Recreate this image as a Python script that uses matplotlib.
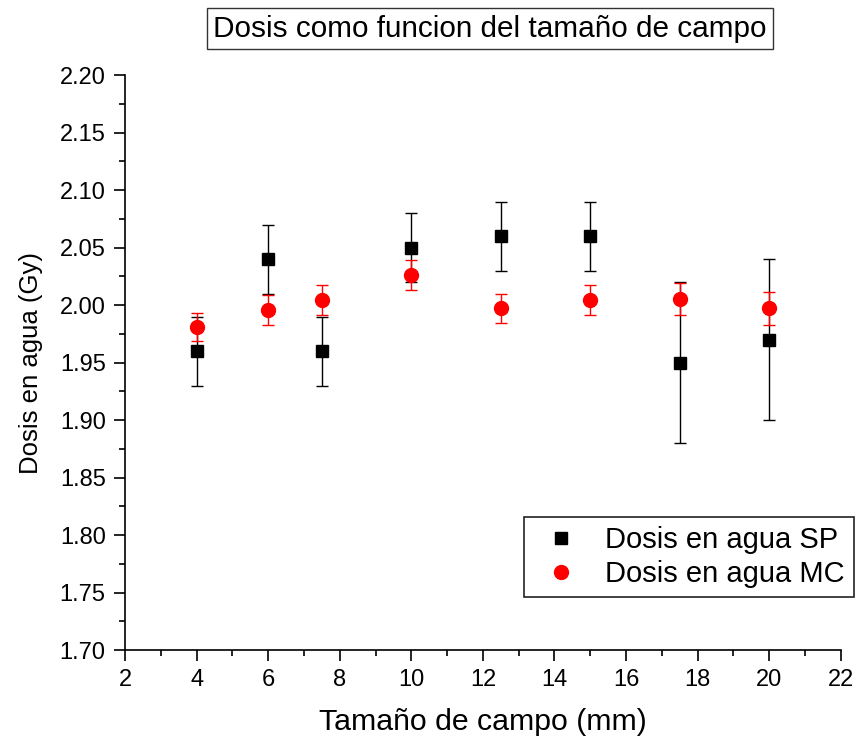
import matplotlib
matplotlib.use("Agg")
import matplotlib.pyplot as plt
from matplotlib.ticker import MultipleLocator, FormatStrFormatter

plt.rcParams['font.family'] = ['Liberation Sans', 'DejaVu Sans']

campo = [4, 6, 7.5, 10, 12.5, 15, 17.5, 20]
dosis_sp = [1.96, 2.04, 1.96, 2.05, 2.06, 2.06, 1.95, 1.97]
err_sp = [0.03, 0.03, 0.03, 0.03, 0.03, 0.03, 0.07, 0.07]
dosis_mc = [1.981, 1.996, 2.004, 2.026, 1.997, 2.004, 2.005, 1.997]
err_mc = [0.012, 0.013, 0.013, 0.013, 0.013, 0.013, 0.014, 0.014]

fig = plt.figure(figsize=(8.57, 7.4), dpi=100)
ax = fig.add_axes([0.146, 0.1216, 0.835, 0.777])

sp = ax.errorbar(campo, dosis_sp, yerr=err_sp, fmt='s', color='black', ms=9,
                 ecolor='black', elinewidth=1.0, capsize=4, capthick=1.0,
                 zorder=2)
mc = ax.errorbar(campo, dosis_mc, yerr=err_mc, fmt='o', color='red', ms=10,
                 ecolor='red', elinewidth=1.0, capsize=4, capthick=1.0,
                 zorder=3)

ax.set_xlim(2, 22)
ax.set_ylim(1.70, 2.20)
ax.xaxis.set_major_locator(MultipleLocator(2))
ax.xaxis.set_minor_locator(MultipleLocator(1))
ax.yaxis.set_major_locator(MultipleLocator(0.05))
ax.yaxis.set_minor_locator(MultipleLocator(0.025))
ax.yaxis.set_major_formatter(FormatStrFormatter('%.2f'))

for s in ('top', 'right'):
    ax.spines[s].set_visible(False)
for s in ('left', 'bottom'):
    ax.spines[s].set_linewidth(1.2)
ax.tick_params(which='major', direction='out', length=8, width=1.2,
               labelsize=17, pad=6)
ax.tick_params(which='minor', direction='out', length=4.5, width=1.2)

ax.set_xlabel('Tamaño de campo (mm)', fontsize=21.8, labelpad=12)
ax.set_ylabel('Dosis en agua (Gy)', fontsize=18.5, labelpad=12)

# title in a plain box above the plot
fig.text(0.5718, 0.961, 'Dosis como funcion del tamaño de campo',
         fontsize=21.4, ha='center', va='center',
         bbox=dict(facecolor='white', edgecolor='#333333', linewidth=1,
                   boxstyle='square,pad=0.22'))

# legend shows only the markers, not the error bars
leg = ax.legend([sp[0], mc[0]], ['Dosis en agua SP', 'Dosis en agua MC'],
                loc='lower right', bbox_to_anchor=(1.018, 0.092),
                borderaxespad=0, fontsize=21, fancybox=False,
                edgecolor='#222222', framealpha=1, handlelength=2.0,
                handletextpad=0.5, borderpad=0.3, labelspacing=0.22)
leg.get_frame().set_linewidth(1.2)

fig.savefig('out.png', dpi=100)
